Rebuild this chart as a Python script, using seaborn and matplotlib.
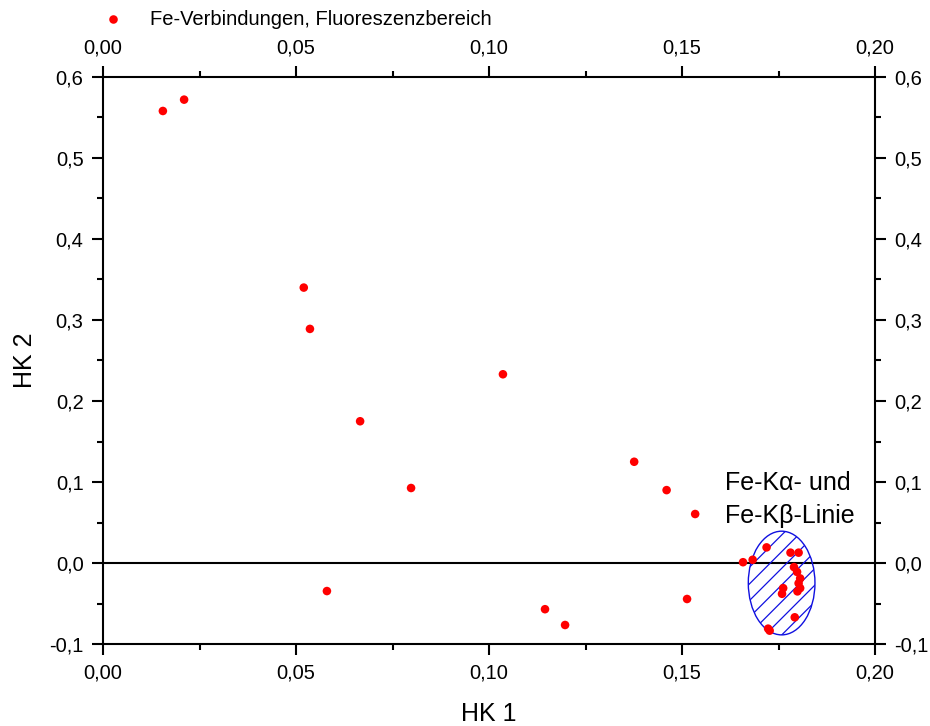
import matplotlib
matplotlib.use("Agg")
import matplotlib.pyplot as plt
import seaborn as sns
import pandas as pd
from matplotlib.patches import Ellipse
from matplotlib.ticker import FuncFormatter, MultipleLocator

hk1 = [0.0155, 0.021, 0.052, 0.0536, 0.0666, 0.0798, 0.1036, 0.1376, 0.146, 0.1534,
       0.058, 0.1145, 0.1197, 0.1513,
       0.1658, 0.1683, 0.1719, 0.1781, 0.1802, 0.1790, 0.1798, 0.1806, 0.1802, 0.1806,
       0.1799, 0.1762, 0.1759, 0.1792, 0.1723, 0.1727]
hk2 = [0.558, 0.572, 0.340, 0.289, 0.175, 0.0926, 0.233, 0.125, 0.090, 0.0605,
       -0.0346, -0.057, -0.0765, -0.0444,
       0.001, 0.004, 0.0193, 0.0128, 0.0128, -0.005, -0.011, -0.019, -0.025, -0.031,
       -0.035, -0.031, -0.038, -0.067, -0.081, -0.0835]
series_label = "Fe-Verbindungen, Fluoreszenzbereich"
annot_line1 = "Fe-K\u03b1- und"
annot_line2 = "Fe-K\u03b2-Linie"
xticks = [0.00, 0.05, 0.10, 0.15, 0.20]
yticks = [-0.1, 0.0, 0.1, 0.2, 0.3, 0.4, 0.5, 0.6]

df = pd.DataFrame({"HK 1": hk1, "HK 2": hk2})

sns.set_style("ticks")
plt.rcParams['font.family'] = ['Liberation Sans', 'DejaVu Sans']
for k in ["text.color", "axes.labelcolor", "xtick.color", "ytick.color"]:
    plt.rcParams[k] = "black"
plt.rcParams['hatch.color'] = "#1010e0"
plt.rcParams['hatch.linewidth'] = 0.9

fig = plt.figure(figsize=(9.3, 7.26), dpi=100)
ax = fig.add_axes([0.1108, 0.1129, 0.8301, 0.7811])

ax.axhline(0, color="black", lw=1.5, zorder=1)
ell = Ellipse((0.1758, -0.0247), 0.01727, 0.128, facecolor="none",
              edgecolor="#1010e0", hatch="//", lw=1.0, zorder=2)
ax.add_patch(ell)

sns.scatterplot(data=df, x="HK 1", y="HK 2", ax=ax, color="red", s=38,
                edgecolor="none", label=series_label, zorder=3)

ax.set_xlim(0, 0.2)
ax.set_ylim(-0.1, 0.6)

fmt2 = FuncFormatter(lambda v, p: f"{v:.2f}".replace(".", ","))
fmt1 = FuncFormatter(lambda v, p: f"{v:.1f}".replace(".", ",").replace("-0,0", "0,0"))
ax.set_xticks(xticks)
ax.set_yticks(yticks)
ax.xaxis.set_major_formatter(fmt2)
ax.yaxis.set_major_formatter(fmt1)
ax.xaxis.set_minor_locator(MultipleLocator(0.025))
ax.yaxis.set_minor_locator(MultipleLocator(0.05))

ax.set_xlabel("HK 1", fontsize=18, labelpad=14)
ax.set_ylabel("HK 2", fontsize=18, labelpad=9)

for s in ax.spines.values():
    s.set_linewidth(1.5)
    s.set_visible(True)
    s.set_color("black")

ax.tick_params(which="major", direction="out", length=8, width=1.5, labelsize=14.5,
               top=True, right=True, labeltop=True, labelright=True, pad=6)
ax.tick_params(which="minor", direction="out", length=4, width=1.5,
               top=True, right=True)

ax.text(0.1611, 0.0988, annot_line1, fontsize=18, va="center", ha="left")
ax.text(0.1611, 0.058, annot_line2, fontsize=18, va="center", ha="left")

leg = ax.legend(loc="lower left", bbox_to_anchor=(-0.036, 1.053), frameon=False,
                fontsize=14.5, handletextpad=0.8, markerscale=1.0)

fig.savefig("out.png", dpi=100)
